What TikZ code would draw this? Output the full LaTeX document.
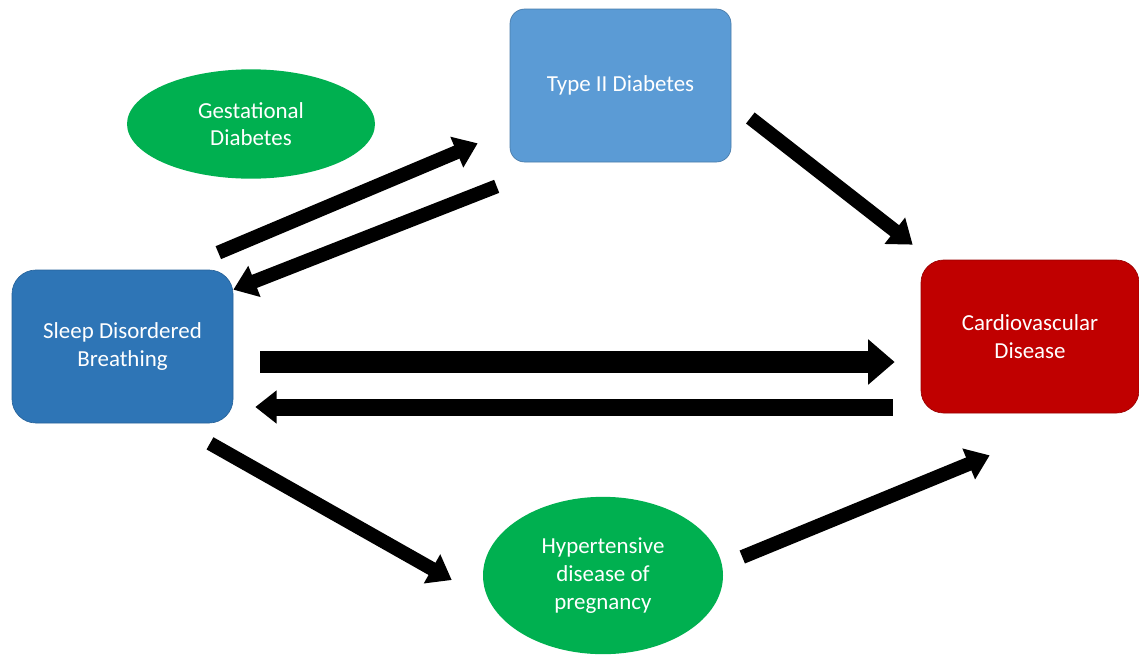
\documentclass[tikz,border=0pt]{standalone}
\usepackage{fontspec}
\setmainfont{Carlito}
\usetikzlibrary{shapes.geometric,arrows.meta,calc}
\definecolor{sdbblue}{HTML}{2E75B6}
\definecolor{tdblue}{HTML}{5B9BD5}
\definecolor{cvdred}{HTML}{C00000}
\definecolor{grn}{HTML}{00B050}
\begin{document}
\begin{tikzpicture}[x=0.75pt,y=-0.75pt,
  lbl/.style={text=white,font=\fontsize{17.2}{20.8}\selectfont,align=center,inner sep=0pt},
  boxnode/.style={lbl,rectangle,minimum width=165.75pt,minimum height=114.75pt},
  ellnode/.style={lbl,ellipse},
  arr/.style={line width=10.5pt,-{Triangle[length=17pt,width=24pt]}},
  arrbig/.style={line width=16.5pt,-{Triangle[length=20pt,width=33pt]}},
  arrmid/.style={line width=12.75pt,-{Triangle[length=16pt,width=24pt]}}]
\path[use as bounding box,fill=white] (0,0) rectangle (1139,654);
\node[boxnode,fill=sdbblue,draw=sdbblue!85!black,line width=0.5pt,rounded corners=18pt] (sdb) at (122.5,346.5) {Sleep Disordered\\Breathing};
\node[boxnode,fill=tdblue,draw=tdblue!80!black,line width=0.5pt,rounded corners=11pt] (t2d) at (620.5,85.5) {Type II Diabetes};
\node[boxnode,fill=cvdred,draw=cvdred!80!black,line width=0.5pt,rounded corners=17pt,minimum width=163.5pt] (cvd) at (1030,336.5) {Cardiovascular\\Disease};
\node[ellnode,fill=grn,minimum width=186pt,minimum height=82pt] (gd) at (251,124) {Gestational\\Diabetes};
\node[ellnode,fill=grn,minimum width=180pt,minimum height=118pt] (hyp) at (603,575.5) {Hypertensive\\disease of\\pregnancy};
% arrows
\draw[arr] ($(sdb.north east)+(-15,-17)$) -- ($(t2d.south west)+(-32,-19)$);
\draw[arr] ($(t2d.south west)+(-13,24)$) -- ($(sdb.north east)+(0,20)$);
\draw[arr] ($(t2d.east)+(19,32.5)$) -- ($(cvd.north west)+(-8,-15)$);
\draw[arrbig] ($(sdb.east)+(27,15.5)$) -- ($(cvd.west)+(-26,25.5)$);
\draw[arrmid] ($(cvd.west)+(-28,70.5)$) -- ($(sdb.east)+(22,60.5)$);
\draw[arr] ($(sdb.south)+(87.5,20)$) -- ($(hyp.west)+(-31,4.5)$);
\draw[arr] ($(hyp.east)+(19,-18.5)$) -- ($(cvd.south west)+(69,42)$);
\end{tikzpicture}
\end{document}
